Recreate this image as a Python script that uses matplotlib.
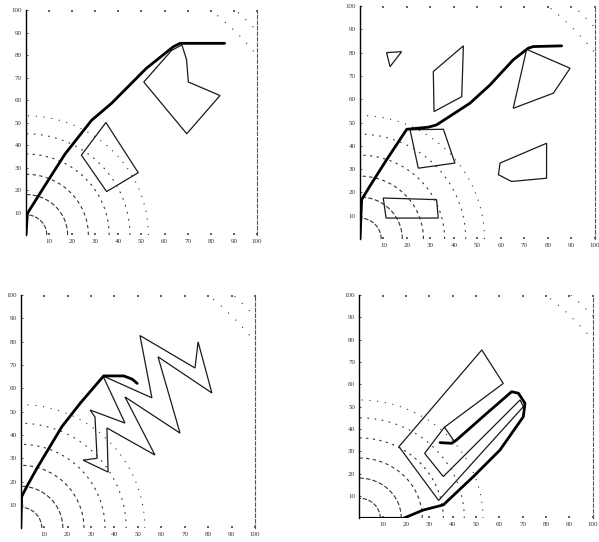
import numpy as np
import matplotlib
matplotlib.use("Agg")
import matplotlib.pyplot as plt
from matplotlib.patches import Polygon

# contour radii (dotted arcs round the origin) and their dash styles
arc_radii = [9, 18, 27, 36, 45, 53, 128, 135]
arc_dashes = [(4, 1.5), (4, 2), (3, 3), (2, 4), (1.5, 5), (1, 6), (1, 8), (1, 8)]

ticks = [10, 20, 30, 40, 50, 60, 70, 80, 90, 100]

# panel 1
path1_x = [0, 0.6, 8.2, 16.9, 28.4, 37, 52, 63.8, 66.7, 86]
path1_y = [0, 9.6, 22, 36, 51, 58.5, 74, 83.7, 85.2, 85.2]
obst1 = [
    [(24, 35.5), (34.6, 50), (48.6, 27.7), (34.9, 19.3)],
    [(67.5, 84.5), (69.5, 78), (70.3, 68), (84, 62), (69.6, 45), (51, 68), (63, 82)],
]

# panel 2
path2_x = [0, 0.7, 5, 11.3, 19.9, 29.1, 32.6, 46.8, 55.3, 65.2, 71.6, 73.8, 85.8]
path2_y = [0, 16.9, 24, 34, 47.1, 48, 49, 58.3, 66.1, 76.9, 81.9, 82.6, 82.9]
obst2 = [
    [(11.3, 80), (17.7, 80.4), (12.8, 74)],
    [(31.2, 71.9), (44, 82.9), (43.3, 61.1), (31.5, 54.7)],
    [(70.9, 81.4), (89.4, 73.3), (82.3, 62.6), (65.2, 56.1)],
    [(21.3, 46.9), (35.5, 47.1), (40.4, 32.6), (24.8, 30.4)],
    [(59.6, 32.6), (79.4, 41.1), (79.4, 26.1), (64.5, 24.7), (58.9, 27.6)],
    [(9.9, 17.6), (32.6, 16.9), (33.3, 9), (11.1, 9)],
]

# panel 3
path3_x = [0, 0.4, 2.6, 6.9, 17.6, 25.4, 35.4, 44, 47.6, 49.7]
path3_y = [0, 13.6, 17.9, 25.7, 43.6, 53.6, 65.3, 65.3, 63.9, 62.1]
obst3 = [
    [(35.1, 65.3), (56.0, 55.9), (50.9, 82.6), (74.4, 68.7), (75.7, 79.9),
     (81.6, 58.0), (58.6, 73.5), (68.0, 40.8), (44.5, 56.3), (57.3, 31.4),
     (36.8, 43.0), (37.3, 24.1), (26.6, 29.2), (32.6, 30.0), (31.7, 47.7),
     (29.6, 50.7), (44.5, 45.1)],
]

# panel 4
path4_x = [0, 18.9, 27.4, 36, 48.9, 60.3, 70.3, 71.0, 68.2, 65.3, 54.6, 41.7, 39.6, 34.6]
path4_y = [0, 0, 3.7, 6, 18.7, 30.6, 45.5, 51.5, 56, 56.7, 47, 35.1, 33.6, 33.9]
obst4 = [
    [(52.5, 75.4), (61.7, 60.4), (36.5, 40.8), (28.0, 29.1), (36.0, 18.7),
     (68.9, 53.0), (70.3, 50.0), (34.0, 8.0), (17.0, 32.1)],
]
arrow4_x = [36.5, 40.3]
arrow4_y = [40.8, 35.1]

panels = [
    ([0.0434, 0.5664, 0.3856, 0.4151], path1_x, path1_y, obst1),
    ([0.601, 0.559, 0.3923, 0.4299], path2_x, path2_y, obst2),
    ([0.0346, 0.0253, 0.3911, 0.4305], path3_x, path3_y, obst3),
    ([0.5998, 0.0437, 0.3896, 0.412], path4_x, path4_y, obst4),
]

fig = plt.figure(figsize=(5.99, 5.42), dpi=100)
theta = np.linspace(0, np.pi / 2, 200)

axes = []
for rect, px, py, obst in panels:
    ax = fig.add_axes(rect)
    axes.append(ax)
    ax.set_xlim(0, 100)
    ax.set_ylim(0, 100)

    for r, d in zip(arc_radii, arc_dashes):
        ax.plot(r * np.cos(theta), r * np.sin(theta), color='#333333',
                lw=0.8, linestyle=(0, d))

    for poly in obst:
        ax.add_patch(Polygon(poly, closed=True, fill=False,
                             edgecolor='#1a1a1a', lw=0.9))

    ax.plot(px, py, color='black', lw=2.0, solid_capstyle='round',
            solid_joinstyle='round')

    ax.set_xticks(ticks)
    ax.set_yticks(ticks)
    ax.set_xticklabels([str(t) for t in ticks])
    ax.set_yticklabels([str(t) for t in ticks])
    ax.tick_params(axis='both', labelsize=5, colors='#333333', length=0, pad=3)
    ax.tick_params(axis='x', top=True, length=1.5, width=1.2, color='#444444',
                   direction='in')
    ax.tick_params(axis='y', length=1.5, width=0.6, direction='in')
    for lab in ax.get_xticklabels() + ax.get_yticklabels():
        lab.set_family('Liberation Serif')

    ax.spines['bottom'].set_visible(False)
    ax.spines['top'].set_visible(False)
    ax.spines['left'].set_linewidth(1.0)
    ax.spines['right'].set_linewidth(0.8)
    ax.spines['right'].set_linestyle((0, (3, 2)))
    ax.spines['right'].set_color('#555555')

axes[3].plot(arrow4_x, arrow4_y, color='#1a1a1a', lw=0.9)

fig.savefig('out.png', dpi=100)
